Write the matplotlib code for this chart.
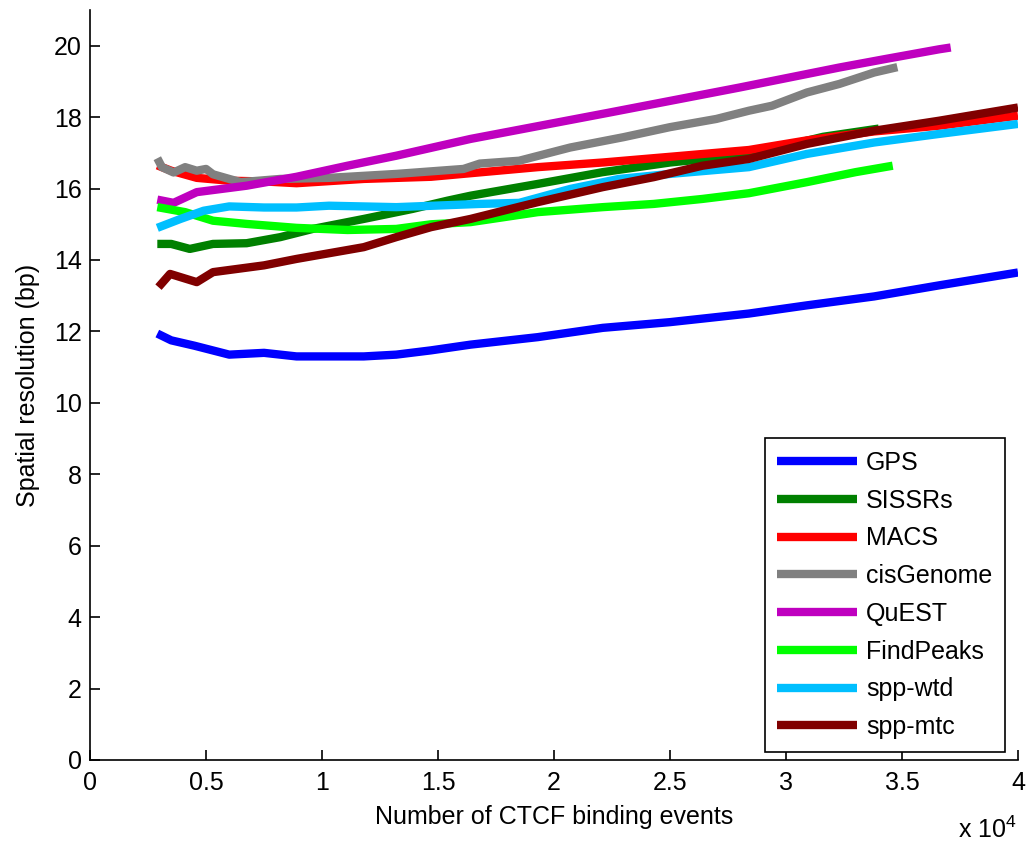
import numpy as np
import matplotlib
matplotlib.use('Agg')
import matplotlib.pyplot as plt
from matplotlib.ticker import FuncFormatter

plt.rcParams['font.family'] = ['Liberation Sans', 'DejaVu Sans']
plt.rcParams['mathtext.fontset'] = 'custom'
plt.rcParams['mathtext.rm'] = 'Liberation Sans'

# x values in number of binding events, y in bp
gps_x = [2900, 3500, 4500, 6000, 7500, 8900, 10500, 11800, 13200, 14700, 16400,
         19300, 22100, 25000, 28400, 30900, 33800, 36600, 40000]
gps_y = [11.94, 11.75, 11.6, 11.35, 11.4, 11.3, 11.3, 11.3, 11.35, 11.47, 11.63,
         11.84, 12.1, 12.26, 12.5, 12.73, 12.98, 13.29, 13.65]

sissrs_x = [2900, 3500, 4300, 5300, 6750, 8200, 9600, 11800, 13900, 15400, 16400,
            19300, 22100, 25000, 28400, 31600, 34000]
sissrs_y = [14.45, 14.45, 14.31, 14.45, 14.47, 14.64, 14.87, 15.15, 15.43, 15.66, 15.8,
            16.13, 16.46, 16.73, 16.95, 17.45, 17.68]

macs_x = [2900, 3500, 4600, 6000, 7500, 8900, 11800, 14700, 16400, 19300, 22100,
          25000, 28400, 30900, 33800, 36600, 40000]
macs_y = [16.65, 16.5, 16.3, 16.22, 16.2, 16.15, 16.27, 16.33, 16.43, 16.6, 16.73,
          16.89, 17.08, 17.35, 17.6, 17.76, 18.04]

cis_x = [2900, 3100, 3600, 4100, 4600, 5000, 5300, 6000, 6500, 8200, 10300, 13200,
         16100, 16800, 18500, 20700, 23000, 25000, 27000, 28400, 29400, 30900, 32300,
         33800, 34800]
cis_y = [16.85, 16.6, 16.45, 16.6, 16.5, 16.55, 16.4, 16.27, 16.18, 16.27, 16.3, 16.41,
         16.55, 16.7, 16.78, 17.15, 17.44, 17.72, 17.95, 18.18, 18.32, 18.69, 18.93,
         19.25, 19.4]

quest_x = [2900, 3600, 4600, 6750, 8900, 11100, 13200, 16400, 22400, 28000, 32300,
           34300, 36600, 37100]
quest_y = [15.69, 15.6, 15.9, 16.08, 16.33, 16.64, 16.92, 17.39, 18.13, 18.83, 19.39,
           19.63, 19.9, 19.95]

findpeaks_x = [2900, 4100, 5300, 6750, 8900, 11100, 13200, 14700, 16400, 19300, 22100,
               24300, 26400, 28400, 30900, 33000, 34600]
findpeaks_y = [15.48, 15.34, 15.1, 15.01, 14.9, 14.84, 14.87, 15.0, 15.06, 15.34, 15.48,
               15.57, 15.71, 15.87, 16.18, 16.46, 16.64]

sppwtd_x = [2900, 3900, 4900, 6000, 7500, 8900, 10300, 13200, 16800, 18500, 20700,
            22800, 25000, 28400, 30900, 33800, 36600, 40000]
sppwtd_y = [14.9, 15.15, 15.38, 15.5, 15.47, 15.47, 15.52, 15.48, 15.57, 15.6, 15.99,
            16.27, 16.41, 16.6, 16.97, 17.29, 17.53, 17.81]

sppmtc_x = [2950, 3450, 4600, 5300, 7500, 8900, 11800, 13200, 14700, 16400, 19300,
            22100, 24300, 26400, 28400, 30900, 33800, 36600, 40000]
sppmtc_y = [13.24, 13.61, 13.38, 13.66, 13.85, 14.03, 14.36, 14.64, 14.92, 15.15, 15.62,
            16.04, 16.32, 16.64, 16.83, 17.25, 17.62, 17.9, 18.27]

series = [
    ('GPS', gps_x, gps_y, (0, 0, 1)),
    ('SISSRs', sissrs_x, sissrs_y, (0, 0.5, 0)),
    ('MACS', macs_x, macs_y, (1, 0, 0)),
    ('cisGenome', cis_x, cis_y, (0.5, 0.5, 0.5)),
    ('QuEST', quest_x, quest_y, (0.75, 0, 0.75)),
    ('FindPeaks', findpeaks_x, findpeaks_y, (0, 1, 0)),
    ('spp-wtd', sppwtd_x, sppwtd_y, (0, 0.75, 1)),
    ('spp-mtc', sppmtc_x, sppmtc_y, (0.5, 0, 0)),
]

fs = 18

fig = plt.figure(figsize=(10.29, 8.48), dpi=100)
ax = fig.add_axes([0.0875, 0.1038, 0.9018, 0.8844])

for name, xs, ys, color in series:
    ax.plot(xs, ys, color=color, linewidth=6, label=name, solid_capstyle='butt')

ax.set_xlim(0, 40000)
ax.set_ylim(0, 21)
ax.set_xticks(np.arange(0, 40001, 5000))
ax.set_yticks(np.arange(0, 21, 2))
ax.xaxis.set_major_formatter(FuncFormatter(lambda v, p: f'{v / 1e4:g}'))

ax.spines['top'].set_visible(False)
ax.spines['right'].set_visible(False)
ax.spines['left'].set_linewidth(1.2)
ax.spines['bottom'].set_linewidth(1.2)
ax.tick_params(direction='in', length=7, width=1.2, labelsize=fs)
ax.tick_params(axis='x', pad=8)
ax.tick_params(axis='y', pad=6)

ax.set_xlabel('Number of CTCF binding events', fontsize=fs, labelpad=7)
ax.set_ylabel('Spatial resolution (bp)', fontsize=fs, labelpad=10)
fig.text(0.931, 0.006, r'x 10$^4$', fontsize=fs, ha='left', va='bottom')

leg = ax.legend(loc='lower right', bbox_to_anchor=(0.986, 0.011), borderaxespad=0,
                fontsize=fs, handlelength=3.2, labelspacing=0.55, fancybox=False,
                edgecolor='black', framealpha=1, borderpad=0.5, handletextpad=0.36)
leg.get_frame().set_linewidth(1.2)

fig.savefig('out.png', dpi=100)
